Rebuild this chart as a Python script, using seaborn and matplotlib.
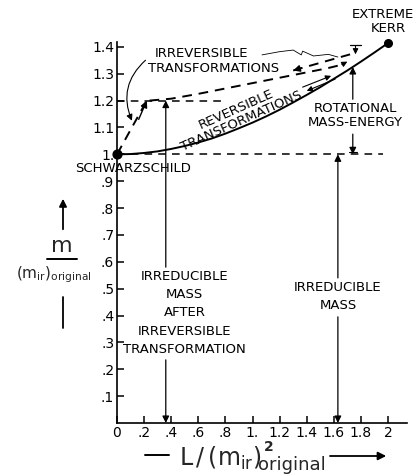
import numpy as np
import pandas as pd
import matplotlib
matplotlib.use("Agg")
import matplotlib.pyplot as plt
import seaborn as sns
from matplotlib.lines import Line2D

# ---------------- data ----------------
# reversible path: m / (m_ir)_original vs L / (m_ir)^2_original
rev_L = [0.0, 0.1, 0.2, 0.3, 0.4, 0.5, 0.6, 0.7, 0.8, 0.9, 1.0,
         1.1, 1.2, 1.3, 1.4, 1.5, 1.6, 1.7, 1.8, 1.9, 2.0]
rev_m = [1.000, 1.001, 1.005, 1.011, 1.020, 1.031, 1.044, 1.059, 1.077, 1.097, 1.118,
         1.141, 1.166, 1.193, 1.221, 1.250, 1.281, 1.312, 1.345, 1.379, 1.414]

# irreversible jump from Schwarzschild
jump_L = [0.0, 0.22]
jump_m = [1.0, 1.20]

# irreversible (lower dashed) path
irr_L = [0.24, 0.40, 0.60, 0.80, 1.00, 1.20, 1.40, 1.55, 1.68]
irr_m = [1.200, 1.207, 1.225, 1.245, 1.265, 1.285, 1.305, 1.320, 1.336]

# upper dashed return path
ret_L = [1.72, 1.30]
ret_m = [1.372, 1.312]

# wavy pointer from the "IRREVERSIBLE" label
wave_L = [1.07, 1.20, 1.30, 1.37, 1.36, 1.45, 1.56, 1.63]
wave_m = [1.370, 1.382, 1.388, 1.384, 1.370, 1.366, 1.372, 1.362]

# reference levels / markers
schw_L, schw_m = 0.0, 1.0
kerr_L, kerr_m = 2.0, 1.414
irr_level = 1.2
base_level = 1.0
mirr_after_L = 0.36
mirr_L = 1.63
rot_L = 1.74
rot_top = 1.325

x_ticks = [0, 0.2, 0.4, 0.6, 0.8, 1.0, 1.2, 1.4, 1.6, 1.8, 2.0]
x_labels = ["0", ".2", ".4", ".6", ".8", "1.", "1.2", "1.4", "1.6", "1.8", "2"]
y_ticks = [0.1, 0.2, 0.3, 0.4, 0.5, 0.6, 0.7, 0.8, 0.9, 1.0, 1.1, 1.2, 1.3, 1.4]
y_labels = [".1", ".2", ".3", ".4", ".5", ".6", ".7", ".8", ".9", "1.", "1.1", "1.2", "1.3", "1.4"]

# ---------------- figure ----------------
sns.set_style("ticks")
plt.rcParams['font.family'] = ['DejaVu Sans']
W, H = 417, 476
fig = plt.figure(figsize=(W / 100, H / 100), dpi=100)
ax = fig.add_axes([117 / W, 53 / H, (407 - 117) / W, (434 - 53) / H])
ax.set_xlim(0, 2.14)
ax.set_ylim(0, 1.418)
for s in ["top", "right"]:
    ax.spines[s].set_visible(False)
for s in ["left", "bottom"]:
    ax.spines[s].set_color("black")
    ax.spines[s].set_linewidth(1.2)
ax.set_xticks(x_ticks)
ax.set_xticklabels(x_labels)
ax.set_yticks(y_ticks)
ax.set_yticklabels(y_labels)
ax.tick_params(direction="in", length=5, width=1.1, labelsize=10, pad=2, colors="black")
ax.set_xlabel("")
ax.set_ylabel("")

lw = 1.4
sns.lineplot(x=rev_L, y=rev_m, ax=ax, color="black", lw=lw, clip_on=False)
sns.lineplot(x=irr_L, y=irr_m, ax=ax, color="black", lw=lw, linestyle=(0, (5, 3.5)), clip_on=False)
sns.lineplot(x=ret_L, y=ret_m, ax=ax, color="black", lw=lw, linestyle=(0, (5, 3.5)), clip_on=False)
sns.lineplot(x=jump_L, y=jump_m, ax=ax, color="black", lw=lw, linestyle=(0, (5, 3.5)))
sns.lineplot(x=wave_L, y=wave_m, ax=ax, color="black", lw=0.6, clip_on=False)

# horizontal dashed reference levels
ax.plot([0, 0.78], [irr_level, irr_level], color="black", lw=1.1, linestyle=(0, (5, 4)))
ax.plot([0, 1.96], [base_level, base_level], color="black", lw=1.1, linestyle=(0, (5, 4)))

# end points
ax.scatter([schw_L], [schw_m], s=40, color="black", zorder=5, clip_on=False)
ax.scatter([kerr_L], [kerr_m], s=30, color="black", zorder=5, clip_on=False)

ap = dict(arrowstyle="-|>", color="black", lw=1.0, mutation_scale=10, shrinkA=0, shrinkB=0)
apt = dict(arrowstyle="-|>", color="black", lw=0.8, mutation_scale=8, shrinkA=0, shrinkB=0)

# arrowheads on dashed paths
ax.annotate("", xy=(jump_L[1], jump_m[1]), xytext=(0.16, 1.13), arrowprops=ap)
ax.annotate("", xy=(ret_L[1], ret_m[1]), xytext=(1.36, 1.321), arrowprops=ap)
ax.annotate("", xy=(1.70, 1.345), xytext=(1.66, 1.334), arrowprops=apt, annotation_clip=False)
# down arrow with bar near Kerr
ax.annotate("", xy=(1.76, 1.372), xytext=(1.76, 1.405), arrowprops=apt, annotation_clip=False)
ax.plot([1.72, 1.80], [1.405, 1.405], color="black", lw=0.9, clip_on=False)

# double arrows along the reversible curve
ax.annotate("", xy=(1.58, 1.292), xytext=(1.37, 1.250), arrowprops=apt)
ax.annotate("", xy=(1.40, 1.236), xytext=(1.61, 1.280), arrowprops=apt)

# curved pointer from IRREVERSIBLE label
ax.annotate("", xy=(0.11, 1.125), xytext=(0.21, 1.35),
            arrowprops=dict(arrowstyle="-|>", color="black", lw=0.8, mutation_scale=9,
                            connectionstyle="arc3,rad=0.35", shrinkA=0, shrinkB=0))

# vertical double-headed arrows interrupted by labels
vap = dict(arrowstyle="-|>", color="black", lw=0.9, mutation_scale=10, shrinkA=0, shrinkB=0)
ax.annotate("", xy=(mirr_after_L, irr_level), xytext=(mirr_after_L, 0.58), arrowprops=vap)
ax.annotate("", xy=(mirr_after_L, 0.0), xytext=(mirr_after_L, 0.235), arrowprops=vap)
ax.annotate("", xy=(mirr_L, base_level), xytext=(mirr_L, 0.54), arrowprops=vap)
ax.annotate("", xy=(mirr_L, 0.0), xytext=(mirr_L, 0.395), arrowprops=vap)
ax.annotate("", xy=(rot_L, rot_top), xytext=(rot_L, 1.205), arrowprops=vap)
ax.annotate("", xy=(rot_L, base_level), xytext=(rot_L, 1.075), arrowprops=vap)
ax.plot([rot_L - 0.03, rot_L + 0.03], [base_level + 0.01, base_level + 0.01], color="black", lw=0.8)

# labels
fs = 9.5
tk = dict(color="black", fontsize=fs, ha="center", va="center")
ax.text(0.62, 1.375, "IRREVERSIBLE", **tk)
ax.text(0.71, 1.318, "TRANSFORMATIONS", **tk)
ax.text(0.90, 1.145, "REVERSIBLE\nTRANSFORMATIONS", rotation=24, linespacing=1.0,
        rotation_mode="anchor", **tk)
ax.text(1.76, 1.145, "ROTATIONAL\nMASS-ENERGY", linespacing=1.05, **tk)
ax.text(0.12, 0.948, "SCHWARZSCHILD", **tk)
ax.text(0.50, 0.41, "IRREDUCIBLE\n\nMASS\n\nAFTER\n\nIRREVERSIBLE\n\nTRANSFORMATION",
        linespacing=0.62, **tk)
ax.text(mirr_L, 0.47, "IRREDUCIBLE\n\nMASS", linespacing=0.62, **tk)
fig.text(352 / W, 1 - 15 / H, "EXTREME", color="black", fontsize=fs, ha="left", va="center")
fig.text(388 / W, 1 - 29 / H, "KERR", color="black", fontsize=fs, ha="center", va="center")

# y-axis label
fig.text(62 / W, 1 - 246 / H, "m", fontsize=16, ha="center", va="center")
fig.add_artist(Line2D([47 / W, 77 / W], [1 - 259 / H, 1 - 259 / H], color="black", lw=1.4,
                      transform=fig.transFigure))
fig.text(54 / W, 1 - 275 / H, r"(m$_{\rm ir}$)$_{\rm original}$", fontsize=11, ha="center", va="center")
fig.add_artist(Line2D([63 / W, 63 / W], [1 - 297 / H, 1 - 328 / H], color="black", lw=1.3,
                      transform=fig.transFigure))
fig.add_artist(matplotlib.patches.FancyArrowPatch((63 / W, 1 - 232 / H), (63 / W, 1 - 196 / H),
               arrowstyle="-|>", mutation_scale=11, color="black", lw=1.3,
               transform=fig.transFigure))

# x-axis label, built from pieces
fig.add_artist(Line2D([145 / W, 169 / W], [1 - 455 / H, 1 - 455 / H], color="black", lw=1.4,
                      transform=fig.transFigure))
t_main = fig.text(179 / W, 1 - 466 / H, r"L$\,$/$\,$(m$_{\rm ir}$)", fontsize=17,
                  ha="left", va="baseline")
fig.canvas.draw()
bb = t_main.get_window_extent()
x_end = bb.x1 / W
fig.text(x_end + 2 / W, 1 - 451 / H, "2", fontsize=10, fontweight="bold", ha="left", va="baseline")
t_sub = fig.text(x_end - 3 / W, 1 - 470 / H, "original", fontsize=13, ha="left", va="baseline")
fig.canvas.draw()
bb2 = t_sub.get_window_extent()
fig.add_artist(matplotlib.patches.FancyArrowPatch((bb2.x1 / W + 1 / W, 1 - 456 / H), (389 / W, 1 - 456 / H),
               arrowstyle="-|>", mutation_scale=12, color="black", lw=1.3,
               transform=fig.transFigure))

fig.savefig("out.png", dpi=100, facecolor="white")
